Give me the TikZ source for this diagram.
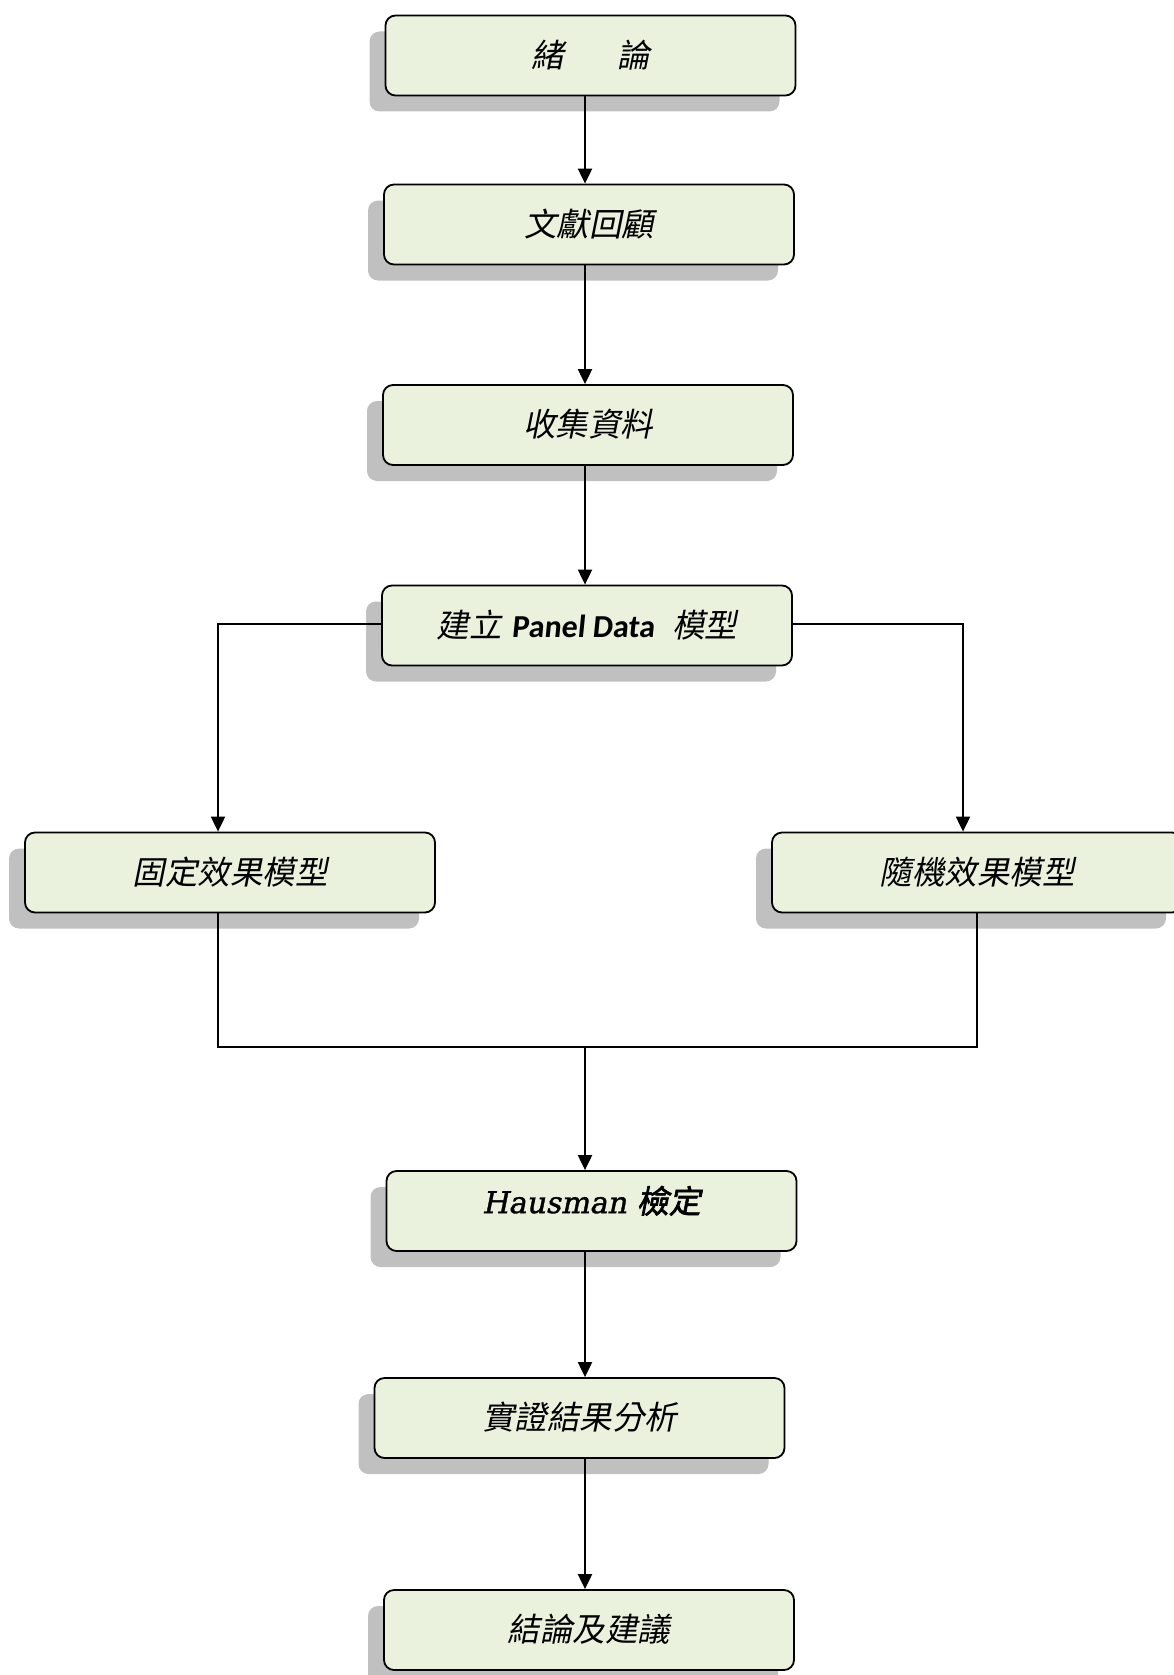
\documentclass[tikz,border=0pt]{standalone}
\usepackage{fontspec}
\usetikzlibrary{arrows.meta,shadows}
\newfontfamily\cjkit[FakeSlant=0.2]{Noto Sans CJK TC}
\newfontfamily\cjkbd[FakeSlant=0.2,FakeBold=2]{Noto Sans CJK TC}
\newfontfamily\latbd[FakeSlant=0.1]{Carlito}
\newfontfamily\hsf[FakeSlant=0.2,FakeBold=1.2]{DejaVu Serif}
\definecolor{boxfill}{HTML}{EAF1DD}
\definecolor{shgray}{HTML}{C0C0C0}
\newcommand{\lift}[2][4pt]{\raisebox{#1}{#2}}
\begin{document}
\begin{tikzpicture}[x=1pt,y=-1pt,
  box/.style={draw=black, line width=1.8pt, fill=boxfill, rounded corners=10pt,
    minimum width=410pt, minimum height=80pt, inner sep=0pt,
    font=\cjkit\fontsize{32.5pt}{36pt}\selectfont,
    drop shadow={shadow xshift=-16pt, shadow yshift=-16pt, fill=shgray, opacity=1}},
  conn/.style={line width=2pt},
  arr/.style={conn, -{Triangle[width=14pt,length=15pt]}}]
\useasboundingbox (0,0) rectangle (1173,1675);
\node[box] (b1) at (590.5,55.5) {\lift{緒\hspace{54pt}論}};
\node[box] (b2) at (589,224.5) {\lift{文獻回顧}};
\node[box] (b3) at (588,425) {\lift{收集資料}};
\node[box] (b4) at (587,625.5) {\lift[3pt]{建立\hspace{10pt}{\latbd\bfseries\fontsize{32pt}{36pt}\selectfont Panel Data}\hspace{18pt}模型}};
\node[box] (b5) at (230,872.5) {\lift{固定效果模型}};
\node[box] (b6) at (977,872.5) {\lift{隨機效果模型}};
\node[box] (b7) at (591.5,1211) {\lift[23pt]{{\hsf\fontsize{30pt}{32pt}\selectfont Hausman}\hspace{10pt}{\cjkbd\fontsize{32pt}{36pt}\selectfont 檢定}}};
\node[box] (b8) at (579.5,1418) {\lift{實證結果分析}};
\node[box] (b9) at (589,1630) {\lift{結論及建議}};
\coordinate (tx) at (585,0);
\coordinate (lx) at (218,0);
\coordinate (rx) at (963,0);
\coordinate (m) at (585,1047);
\draw[arr] (b1.south -| tx) -- (b2.north -| tx);
\draw[arr] (b2.south -| tx) -- (b3.north -| tx);
\draw[arr] (b3.south -| tx) -- (b4.north -| tx);
\draw[arr] ([yshift=2pt]b4.west) -| (b5.north -| lx);
\draw[arr] ([yshift=2pt]b4.east) -| (b6.north -| rx);
\draw[conn] (b5.south -| lx) |- (m) -| (b6.south);
\draw[arr] (m) -- (b7.north -| m);
\draw[arr] (b7.south -| tx) -- (b8.north -| tx);
\draw[arr] (b8.south -| tx) -- (b9.north -| tx);
\end{tikzpicture}
\end{document}
